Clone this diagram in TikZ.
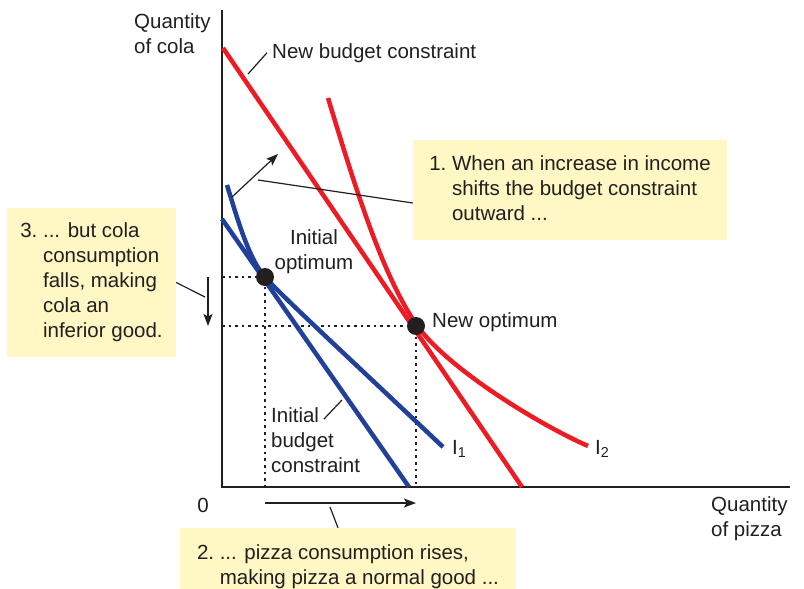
\documentclass[tikz,border=0pt]{standalone}
\usepackage{fontspec}
\setmainfont{Liberation Sans}
\usetikzlibrary{arrows.meta}
\definecolor{curvered}{RGB}{237,28,36}
\definecolor{curveblue}{RGB}{33,64,154}
\definecolor{notefill}{RGB}{255,248,196}
\definecolor{ink}{RGB}{35,31,32}

\begin{document}
\begin{tikzpicture}[x=1pt, y=-1pt,
    font=\fontsize{20.5}{25}\selectfont, text=ink,
    >={Stealth[length=12pt, width=9pt, inset=2.5pt]},
    lbl/.style={inner sep=0pt},
    note/.style={fill=notefill, inner sep=0pt},
    curve/.style={line width=4.5pt},
    dot/.style={circle, fill=ink, inner sep=0pt, minimum size=18pt},
    guide/.style={ink, line width=2.8pt, dash pattern=on 2.6pt off 4pt},
    leader/.style={ink, line width=1.2pt}]
    \useasboundingbox (0,0) rectangle (804,589);
    \clip (0,0) rectangle (804,589);

    % Axes
    \coordinate (O) at (222,487);
    \draw[ink, line width=1.5pt] (222,10) -- (O) -- (790,487);

    % Optimum points
    \coordinate (p1) at (265,277);
    \coordinate (p2) at (416,326);
    \draw[guide] (p1 -| O) -- (p1) -- (p1 |- O);
    \draw[guide] (p2 -| O) -- (p2) -- (p2 |- O);

    % Budget constraints and indifference curves
    \draw[curve, curveblue] (222,219) -- (409,487);
    \draw[curve, curveblue] (227,185) .. controls (240,228) and (250,260) .. (265,277)
        .. controls (285,299) and (330,340) .. (443,447);
    \draw[curve, curvered] (223,48) -- (522,487);
    \draw[curve, curvered] (328,98) .. controls (353,180) and (381,273) .. (416,324)
        .. controls (446,368) and (540,425) .. (588,446);

    \node[dot] (iopt) at (p1) {};
    \node[dot] (nopt) at (p2) {};

    % Axis labels
    \node[lbl, anchor=north west, align=left] (yname) at (134,13) {Quantity\\of cola};
    \node[lbl, anchor=north west, align=left] (xname) at (711,496) {Quantity\\of pizza};
    \node[lbl, anchor=north] (zero) at (203,498) {0};

    % Curve labels
    \node[lbl, anchor=north west] (newbc) at (272,43) {New budget constraint};
    \node[lbl, anchor=north, align=center] (ioptlbl) at (314,229) {Initial\\optimum};
    \node[lbl, anchor=north west, align=left] (ibclbl) at (271,407) {Initial\\budget\\constraint};
    \node[lbl, anchor=north west] (noptlbl) at (432,312) {New optimum};
    \node[lbl, anchor=north west] (ione) at (452,440) {I\textsubscript{1}};
    \node[lbl, anchor=north west] (itwo) at (595,440) {I\textsubscript{2}};

    \coordinate (nbfoot) at (248,74);
    \draw[leader] (nbfoot) -- ([xshift=-5pt]newbc.west);
    \coordinate (ibhead) at (324,419);
    \coordinate (ibfoot) at (342,400);
    \draw[leader] (ibhead) -- (ibfoot);

    % Shifts
    \coordinate (shiftA) at (232,197);
    \coordinate (shiftB) at (278,154);
    \draw[leader, ->] (shiftA) -- (shiftB);
    \draw[leader, ->] (iopt -| 208,0) -- (nopt -| 208,0);
    \draw[leader, ->] (iopt |- 0,503) -- (nopt |- 0,503);

    % Notes
    \node[note, minimum width=314pt, minimum height=100pt] (note1) at (570,190)
        {\begin{tabular}{@{}l@{\ }l@{}}1.&When an increase in income\\&shifts the budget constraint\\&outward ...\end{tabular}};
    \node[note, minimum width=169pt, minimum height=149pt] (note3) at (91.5,282.5)
        {\begin{tabular}{@{}l@{\ }l@{}}3.&... but cola\\&consumption\\&falls, making\\&cola an\\&inferior good.\end{tabular}};
    \node[note, minimum width=336pt, minimum height=77pt] (note2) at (348,566.5)
        {\begin{tabular}{@{}l@{\ }l@{}}2.&... pizza consumption rises,\\&making pizza a normal good ...\end{tabular}};

    \coordinate (n1foot) at (258,180);
    \draw[leader] (n1foot) -- ([yshift=-13pt]note1.west);
    \coordinate (n3foot) at (205,297);
    \draw[leader] (note3.east) -- (n3foot);
    \coordinate (n2foot) at (330,507);
    \draw[leader] ([xshift=-10pt]note2.north) -- (n2foot);
\end{tikzpicture}
\end{document}
